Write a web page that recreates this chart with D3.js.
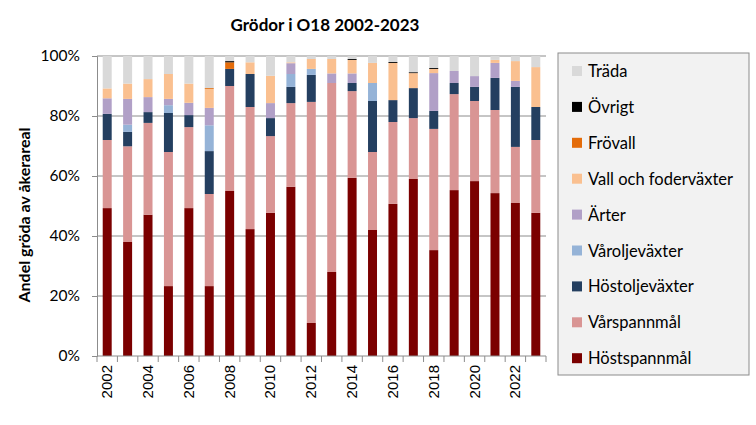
<!DOCTYPE html>
<html>
<head>
<meta charset="utf-8">
<script src="https://cdn.jsdelivr.net/npm/d3@7"></script>
<style>
  body { margin: 0; background: #fff; }
  svg text { fill: #000; }
</style>
</head>
<body>
<svg width="756" height="425"></svg>
<script>
// years and crop categories (bottom to top of the stack)
var years = d3.range(2002, 2024).map(String);
var crops = ["Höstspannmål", "Vårspannmål", "Höstoljeväxter", "Våroljeväxter", "Ärter",
             "Vall och foderväxter", "Frövall", "Övrigt", "Träda"];
var colors = ["#7b0000", "#d99594", "#243f60", "#95b3d7", "#b1a0c7", "#fac090", "#e46c0a", "#000000", "#d9d9d9"];
var yTicks = [0, 0.2, 0.4, 0.6, 0.8, 1];

// shares in percent, one value per year
var hostspannmal = [49.3, 38.0, 47.1, 23.3, 49.3, 23.3, 55.0, 42.3, 47.7, 56.4, 11.0, 28.0, 59.4, 42.0, 50.7, 59.0, 35.3, 55.3, 58.3, 54.3, 51.0, 47.7];
var varspannmal  = [22.7, 31.9, 30.6, 44.7, 27.0, 30.7, 35.0, 40.7, 25.6, 27.9, 73.7, 63.0, 28.9, 26.0, 27.3, 20.3, 40.4, 32.0, 26.7, 27.7, 18.7, 24.3];
var hostolje     = [8.7, 4.8, 3.6, 13.0, 4.0, 14.3, 5.7, 11.0, 6.0, 5.4, 9.0, 0, 2.7, 17.0, 7.3, 10.0, 6.0, 3.7, 4.7, 10.7, 20.0, 11.0];
var varolje      = [0, 2.4, 0, 2.6, 0, 8.6, 0, 0, 0, 4.3, 2.0, 0, 0, 6.0, 0, 0, 0, 0, 0, 0, 0, 0];
var arter        = [5.2, 8.6, 5.0, 2.1, 4.1, 5.8, 0, 0, 5.0, 3.6, 0, 3.2, 3.2, 0, 0, 0, 12.6, 4.0, 3.6, 5.0, 2.0, 0];
var vall         = [3.3, 5.1, 6.0, 8.3, 6.4, 6.3, 0, 3.9, 9.1, 0.3, 3.3, 4.8, 4.5, 6.7, 12.4, 5.0, 1.4, 0, 0, 1.0, 6.6, 13.3];
var frovall      = [0, 0, 0, 0, 0, 0.3, 2.2, 0, 0, 0, 0, 0, 0, 0, 0, 0, 0, 0, 0, 0, 0, 0];
var ovrigt       = [0, 0, 0, 0, 0, 0, 0.4, 0, 0, 0, 0, 0, 0.3, 0, 0.3, 0.3, 0.3, 0, 0, 0, 0, 0];
var trada        = [10.8, 9.2, 7.7, 6.0, 9.2, 10.7, 1.7, 2.1, 6.6, 2.1, 1.0, 1.0, 1.0, 2.3, 2.0, 5.4, 4.0, 5.0, 6.7, 1.3, 1.7, 3.7];

var series = [hostspannmal, varspannmal, hostolje, varolje, arter, vall, frovall, ovrigt, trada];

var data = years.map(function(y, i) {
  var row = {year: y};
  crops.forEach(function(c, k) { row[c] = series[k][i] / 100; });
  return row;
});

var svg = d3.select("svg"),
    margin = {top: 56, left: 97, right: 210, bottom: 69},
    width = 756 - margin.left - margin.right,
    height = 425 - margin.top - margin.bottom,
    x = d3.scaleBand().domain(years).range([0, width]).paddingInner(0.56).paddingOuter(0.28),
    y = d3.scaleLinear().domain([0, 1]).range([height, 0]),
    color = d3.scaleOrdinal().domain(crops).range(colors),
    g = svg.append("g").attr("transform", "translate(" + margin.left + "," + margin.top + ")");

// title
svg.append("text")
    .attr("x", 325).attr("y", 31)
    .attr("text-anchor", "middle")
    .style("font-family", "Lato, 'Open Sans', sans-serif")
    .style("font-weight", "bold").style("font-size", "17px")
    .text("Grödor i O18 2002-2023");

// gridlines
g.selectAll(".grid")
  .data(yTicks.slice(1))
  .enter().append("line")
    .attr("x1", 0).attr("x2", width)
    .attr("y1", function(d) { return y(d); })
    .attr("y2", function(d) { return y(d); })
    .attr("stroke", "#8c8c8c").attr("stroke-width", 1);

// stacked bars
var stack = d3.stack().keys(crops)(data);
g.selectAll(".layer")
  .data(stack)
  .enter().append("g")
    .attr("fill", function(d) { return color(d.key); })
  .selectAll("rect")
  .data(function(d) { return d; })
  .enter().append("rect")
    .attr("x", function(d) { return x(d.data.year); })
    .attr("y", function(d) { return y(d[1]); })
    .attr("width", x.bandwidth())
    .attr("height", function(d) { return Math.max(0, y(d[0]) - y(d[1])); });

// y axis
var yAxis = g.append("g")
    .call(d3.axisLeft(y).tickValues(yTicks).tickFormat(d3.format(".0%")).tickSize(5).tickPadding(12));
yAxis.select(".domain").attr("stroke", "#8c8c8c");
yAxis.selectAll(".tick line").attr("stroke", "#8c8c8c");
yAxis.selectAll("text")
    .style("font-family", "Lato, 'Open Sans', sans-serif").style("font-size", "15.5px").attr("fill", "#262626");

// x axis: ticks at band edges, labels every other year
var step = x.step();
var xAxis = g.append("g").attr("transform", "translate(0," + height + ")");
xAxis.append("line").attr("x1", 0).attr("x2", width).attr("stroke", "#8c8c8c");
xAxis.selectAll(".tk")
  .data(d3.range(years.length + 1))
  .enter().append("line")
    .attr("x1", function(i) { return i * step; })
    .attr("x2", function(i) { return i * step; })
    .attr("y1", 0).attr("y2", 6)
    .attr("stroke", "#8c8c8c");
xAxis.selectAll(".lbl")
  .data(years.filter(function(d, i) { return i % 2 === 0; }))
  .enter().append("text")
    .attr("transform", function(d) {
      return "translate(" + (x(d) + x.bandwidth() / 2 + 5) + ",9) rotate(-90)";
    })
    .attr("text-anchor", "end")
    .style("font-family", "'Liberation Sans', Arial, sans-serif").style("font-size", "15px")
    .attr("fill", "#262626")
    .text(function(d) { return d; });

// y label
svg.append("text")
    .attr("transform", "translate(30,215) rotate(-90)")
    .attr("text-anchor", "middle")
    .style("font-family", "Lato, 'Open Sans', sans-serif")
    .style("font-weight", "bold").style("font-size", "16px")
    .text("Andel gröda av åkerareal");

// legend, top item is Träda
var legend = svg.append("g").attr("transform", "translate(558,53)");
legend.append("rect")
    .attr("width", 191).attr("height", 322)
    .attr("fill", "#f2f2f2").attr("stroke", "#8c8c8c");
var items = legend.selectAll(".item")
  .data(crops.slice().reverse())
  .enter().append("g")
    .attr("transform", function(d, i) { return "translate(14," + (18 + i * 35.9) + ")"; });
items.append("rect")
    .attr("x", 0).attr("y", -5).attr("width", 10).attr("height", 10)
    .attr("fill", function(d) { return color(d); });
items.append("text")
    .attr("x", 16).attr("y", 6)
    .style("font-family", "Lato, 'Open Sans', sans-serif").style("font-size", "16.5px")
    .attr("fill", "#262626")
    .text(function(d) { return d; });
</script>
</body>
</html>
